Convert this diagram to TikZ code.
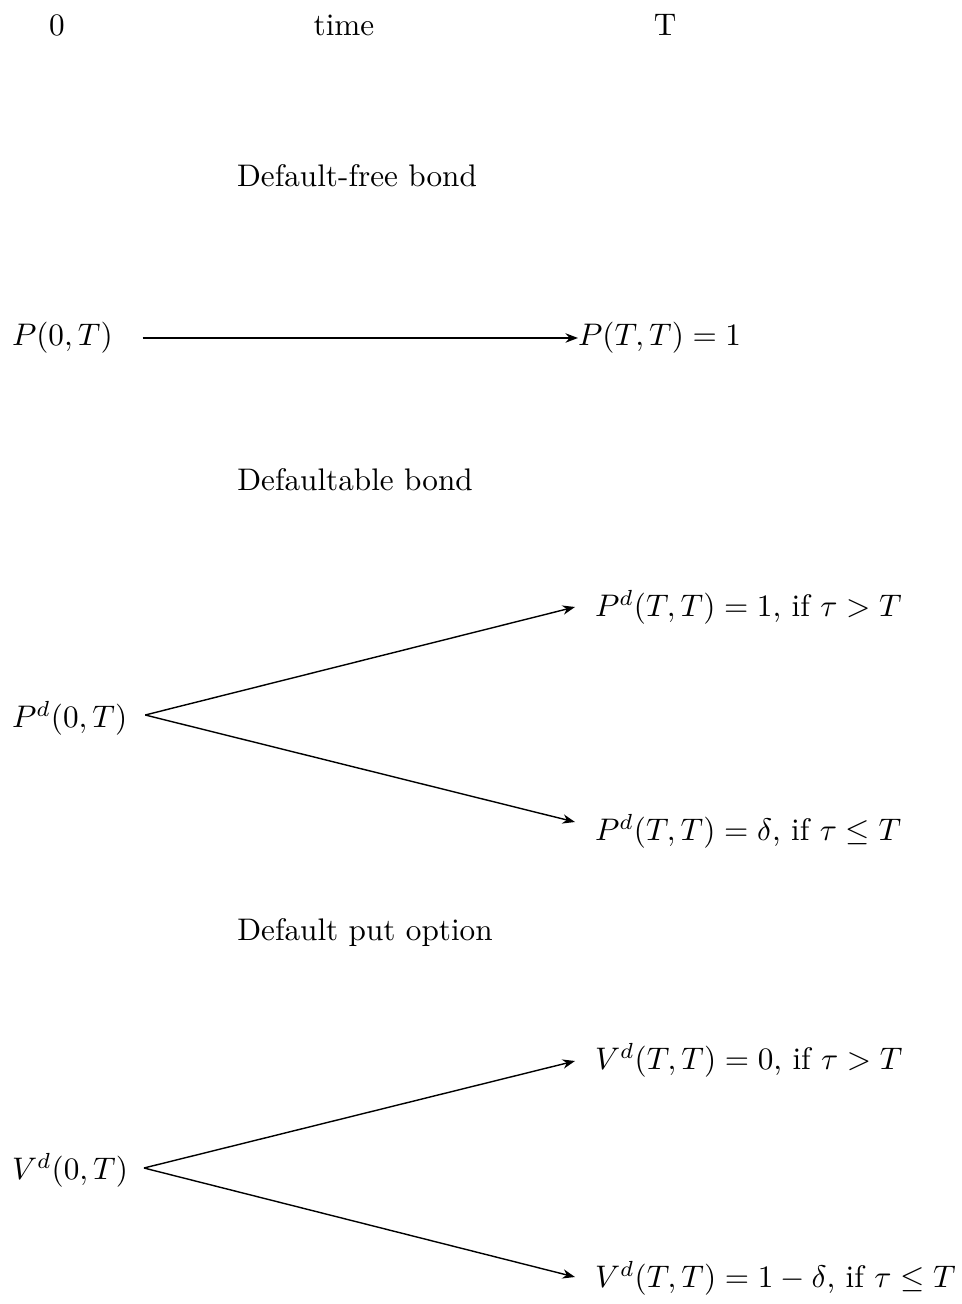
\documentclass[tikz,border=0pt]{standalone}
\usetikzlibrary{arrows.meta,calc}
\begin{document}
\begin{tikzpicture}[x=0.3205pt,y=-0.3205pt,
  lbl/.style={inner sep=0pt, outer sep=0pt},
  lft/.style={lbl, anchor=west},
  arr/.style={-{Stealth[length=4pt,width=3pt]}, line width=0.45pt},
  harr/.style={-{Stealth[length=4pt,width=3pt]}, line width=0.65pt}]
\useasboundingbox (0,0) rectangle (961,1304);
% header
\node[lbl] (t0) at (57,25) {0};
\node[lbl] (tm) at (344,25) {time};
\node[lbl] (tT) at (665,25) {T};
% default-free bond
\node[lbl] (h1) at (357,176) {Default-free bond};
\node[lft] (p0) at (12,338) {$P(0,T)$};
\node[lft] (pT) at (578,338) {$P(T,T)=1$};
\draw[harr] ($(p0.east)+(30,0)$) -- (pT.west);
% defaultable bond
\node[lbl] (h2) at (355,480) {Defaultable bond};
\node[lft] (pd0) at (12,718) {$P^d(0,T)$};
\node[lft] (pdu) at (595,607) {$P^d(T,T)=1$, if $\tau>T$};
\node[lft] (pdl) at (595,831) {$P^d(T,T)=\delta$, if $\tau\le T$};
\draw[arr] ($(pd0.east)+(18,-3)$) -- ($(pdu.west)+(-20,0)$);
\draw[arr] ($(pd0.east)+(18,-3)$) -- ($(pdl.west)+(-20,-9)$);
% default put option
\node[lbl] (h3) at (365,933) {Default put option};
\node[lft] (vd0) at (12,1170) {$V^d(0,T)$};
\node[lft] (vdu) at (595,1060) {$V^d(T,T)=0$, if $\tau>T$};
\node[lft] (vdl) at (595,1278) {$V^d(T,T)=1-\delta$, if $\tau\le T$};
\draw[arr] ($(vd0.east)+(16,-2)$) -- ($(vdu.west)+(-20,1)$);
\draw[arr] ($(vd0.east)+(16,-2)$) -- ($(vdl.west)+(-20,-1)$);
\end{tikzpicture}
\end{document}
